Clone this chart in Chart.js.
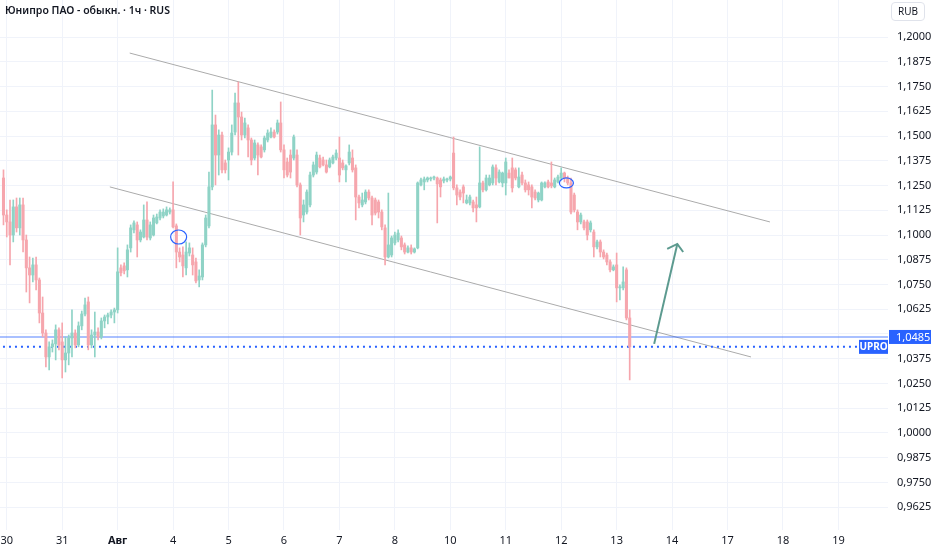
<!DOCTYPE html>
<html lang="ru">
<head>
<meta charset="utf-8">
<title>Юнипро ПАО - обыкн. · 1ч · RUS</title>
<script src="https://cdn.jsdelivr.net/npm/chart.js@4.4.1/dist/chart.umd.min.js"></script>
<style>
  html, body { margin: 0; padding: 0; background: #fff; }
  #wrap { position: relative; width: 932px; height: 550px; }
  #title { position: absolute; left: 5px; top: 3px; font: 600 10.5px "Noto Sans", sans-serif; color: #131722; }
  #cur { position: absolute; left: 891px; top: 2px; width: 34px; height: 19px; box-sizing: border-box;
         border: 1px solid #e0e3eb; border-radius: 4px; font: 10px "Noto Sans", sans-serif;
         color: #131722; text-align: center; line-height: 17px; }
</style>
</head>
<body>
<div id="wrap">
  <canvas id="chart"></canvas>
  <div id="title">Юнипро ПАО - обыкн. · 1ч · RUS</div>
  <div id="cur">RUB</div>
</div>
<script>
// hourly candles
const opens = [1.1288,1.1101,1.1066,1.1000,1.1142,1.1036,1.1152,1.0975,1.0834,1.0798,
  1.0849,1.0773,1.0606,1.0505,1.0384,1.0435,1.0450,1.0521,1.0460,1.0369,
  1.0404,1.0480,1.0505,1.0445,1.0541,1.0601,1.0662,1.0445,1.0495,1.0510,
  1.0485,1.0566,1.0586,1.0596,1.0611,1.0622,1.0834,1.0844,1.0824,1.0935,
  1.1026,1.1051,1.0975,1.0990,1.1076,1.0985,1.1000,1.1061,1.1086,1.1096,
  1.1101,1.1116,1.1127,1.1046,1.0914,1.0899,1.0834,1.0909,1.0899,1.0864,
  1.0773,1.0788,1.0950,1.1046,1.1243,1.1556,1.1404,1.1505,1.1364,1.1379,
  1.1419,1.1520,1.1667,1.1596,1.1505,1.1541,1.1480,1.1389,1.1455,1.1445,
  1.1430,1.1480,1.1495,1.1520,1.1520,1.1566,1.1430,1.1369,1.1404,1.1389,
  1.1404,1.1253,1.1101,1.1116,1.1152,1.1303,1.1318,1.1389,1.1379,1.1354,
  1.1344,1.1364,1.1389,1.1389,1.1364,1.1329,1.1364,1.1389,1.1339,1.1192,
  1.1152,1.1167,1.1217,1.1187,1.1177,1.1167,1.1116,1.1036,1.0889,1.0899,
  1.0960,1.0975,1.0985,1.0950,1.0914,1.0935,1.0914,1.0935,1.1253,1.1268,
  1.1278,1.1283,1.1288,1.1288,1.1278,1.1273,1.1278,1.1283,1.1414,1.1238,
  1.1217,1.1243,1.1162,1.1162,1.1167,1.1152,1.1142,1.1263,1.1228,1.1253,
  1.1263,1.1339,1.1268,1.1263,1.1263,1.1313,1.1339,1.1329,1.1243,1.1303,
  1.1263,1.1253,1.1243,1.1217,1.1177,1.1177,1.1243,1.1268,1.1263,1.1243,
  1.1268,1.1288,1.1313,1.1288,1.1263,1.1202,1.1116,1.1066,1.1066,1.1066,
  1.1026,1.1015,1.0940,1.0965,1.0914,1.0899,1.0864,1.0824,1.0849,1.0733,
  1.0733,1.0824,1.0581];
const highs = [1.1329,1.1127,1.1177,1.1177,1.1187,1.1187,1.1187,1.1000,1.0889,1.0884,
  1.0889,1.0783,1.0687,1.0521,1.0460,1.0470,1.0546,1.0531,1.0556,1.0485,
  1.0495,1.0622,1.0521,1.0561,1.0616,1.0682,1.0687,1.0521,1.0611,1.0531,
  1.0581,1.0596,1.0606,1.0622,1.0631,1.0935,1.0849,1.0859,1.0950,1.1051,
  1.1071,1.1066,1.1026,1.1152,1.1167,1.1066,1.1101,1.1106,1.1127,1.1132,
  1.1142,1.1137,1.1268,1.1056,1.0935,1.0940,1.0965,1.0960,1.0935,1.0884,
  1.0824,1.0960,1.1101,1.1318,1.1732,1.1606,1.1531,1.1520,1.1379,1.1440,
  1.1556,1.1717,1.1773,1.1621,1.1591,1.1556,1.1490,1.1480,1.1465,1.1455,
  1.1500,1.1531,1.1541,1.1531,1.1581,1.1672,1.1455,1.1389,1.1430,1.1505,
  1.1430,1.1263,1.1177,1.1228,1.1318,1.1369,1.1419,1.1404,1.1394,1.1379,
  1.1389,1.1404,1.1430,1.1495,1.1379,1.1354,1.1455,1.1430,1.1354,1.1202,
  1.1212,1.1228,1.1228,1.1197,1.1187,1.1177,1.1127,1.1051,1.1212,1.0995,
  1.1015,1.1026,1.0995,1.0960,1.0945,1.0950,1.0935,1.1268,1.1288,1.1293,
  1.1293,1.1293,1.1298,1.1293,1.1288,1.1293,1.1288,1.1298,1.1495,1.1253,
  1.1228,1.1253,1.1202,1.1202,1.1177,1.1192,1.1445,1.1273,1.1303,1.1303,
  1.1354,1.1354,1.1329,1.1318,1.1389,1.1329,1.1389,1.1339,1.1339,1.1318,
  1.1278,1.1268,1.1253,1.1228,1.1217,1.1268,1.1268,1.1278,1.1369,1.1288,
  1.1303,1.1339,1.1318,1.1298,1.1288,1.1212,1.1127,1.1111,1.1076,1.1076,
  1.1071,1.1026,1.0975,1.0975,1.0925,1.0909,1.0874,1.0849,1.0909,1.0748,
  1.0839,1.0834,1.0622];
const lows = [1.1051,1.0990,1.0849,1.0965,1.1015,1.1000,1.0914,1.0712,1.0657,1.0763,
  1.0723,1.0556,1.0485,1.0334,1.0319,1.0409,1.0369,1.0420,1.0278,1.0308,
  1.0344,1.0384,1.0430,1.0435,1.0521,1.0591,1.0420,1.0430,1.0384,1.0470,
  1.0475,1.0531,1.0551,1.0581,1.0556,1.0606,1.0793,1.0803,1.0788,1.0914,
  1.1010,1.0889,1.0965,1.0985,1.0975,1.0975,1.0995,1.1056,1.1076,1.1086,
  1.1096,1.1106,1.1036,1.0834,1.0864,1.0788,1.0798,1.0894,1.0798,1.0758,
  1.0738,1.0773,1.0940,1.1036,1.1228,1.1253,1.1303,1.1313,1.1313,1.1278,
  1.1404,1.1505,1.1404,1.1480,1.1490,1.1394,1.1354,1.1379,1.1303,1.1389,
  1.1419,1.1470,1.1490,1.1490,1.1510,1.1419,1.1288,1.1293,1.1288,1.1379,
  1.1243,1.1000,1.1066,1.1106,1.1142,1.1293,1.1308,1.1339,1.1349,1.1313,
  1.1339,1.1359,1.1379,1.1268,1.1329,1.1268,1.1354,1.1318,1.1076,1.1137,
  1.1142,1.1157,1.1177,1.1051,1.1101,1.1086,1.1026,1.0849,1.0884,1.0889,
  1.0950,1.0965,1.0925,1.0904,1.0909,1.0904,1.0909,1.0930,1.1248,1.1228,
  1.1268,1.1273,1.1278,1.1061,1.1192,1.1263,1.1268,1.1273,1.1228,1.1152,
  1.1177,1.1162,1.1157,1.1152,1.1116,1.1066,1.1137,1.1217,1.1222,1.1248,
  1.1253,1.1253,1.1263,1.1243,1.1202,1.1288,1.1217,1.1278,1.1238,1.1253,
  1.1217,1.1202,1.1137,1.1177,1.1167,1.1172,1.1238,1.1238,1.1238,1.1238,
  1.1263,1.1278,1.1268,1.1253,1.1106,1.1116,1.1026,1.1056,1.1026,1.0975,
  1.1015,1.0889,1.0930,1.0889,1.0879,1.0849,1.0814,1.0819,1.0662,1.0672,
  1.0723,1.0571,1.0268];
const closes = [1.1101,1.1066,1.1000,1.1142,1.1036,1.1152,1.0975,1.0834,1.0798,1.0849,
  1.0773,1.0606,1.0505,1.0384,1.0435,1.0450,1.0521,1.0445,1.0369,1.0404,
  1.0480,1.0505,1.0445,1.0541,1.0601,1.0647,1.0445,1.0495,1.0510,1.0485,
  1.0566,1.0586,1.0596,1.0611,1.0622,1.0814,1.0809,1.0819,1.0925,1.1036,
  1.1061,1.0975,1.1015,1.1076,1.0990,1.1051,1.1086,1.1091,1.1116,1.1116,
  1.1127,1.1127,1.1041,1.0914,1.0889,1.0844,1.0914,1.0935,1.0849,1.0768,
  1.0793,1.0950,1.1086,1.1243,1.1556,1.1404,1.1505,1.1329,1.1329,1.1419,
  1.1515,1.1667,1.1596,1.1505,1.1566,1.1480,1.1379,1.1465,1.1404,1.1394,
  1.1490,1.1515,1.1520,1.1495,1.1566,1.1430,1.1329,1.1303,1.1318,1.1495,
  1.1253,1.1086,1.1152,1.1217,1.1303,1.1354,1.1404,1.1344,1.1354,1.1318,
  1.1379,1.1394,1.1414,1.1303,1.1339,1.1349,1.1419,1.1329,1.1192,1.1162,
  1.1177,1.1217,1.1187,1.1101,1.1111,1.1116,1.1041,1.0889,1.0950,1.0985,
  1.1000,1.1010,1.0940,1.0914,1.0935,1.0914,1.0930,1.1263,1.1278,1.1283,
  1.1288,1.1288,1.1293,1.1258,1.1243,1.1283,1.1283,1.1293,1.1238,1.1202,
  1.1192,1.1212,1.1177,1.1192,1.1137,1.1137,1.1263,1.1228,1.1288,1.1288,
  1.1344,1.1288,1.1318,1.1313,1.1369,1.1288,1.1238,1.1288,1.1293,1.1263,
  1.1228,1.1228,1.1192,1.1187,1.1212,1.1263,1.1263,1.1243,1.1248,1.1278,
  1.1293,1.1313,1.1288,1.1263,1.1116,1.1127,1.1066,1.1101,1.1036,1.1000,
  1.1061,1.0940,1.0965,1.0914,1.0889,1.0864,1.0824,1.0839,1.0733,1.0738,
  1.0763,1.0581,1.0435];

// bottom axis: bar index where each day starts, and its label
const dayBars = [1, 18, 35, 52, 69, 86, 103, 120, 137, 154, 171, 188, 205, 222, 239, 256];
const dayLabels = ['30', '31', 'Авг', '4', '5', '6', '7', '8', '10', '11', '12', '13', '14', '17', '18', '19'];
const priceTicks = [0.9625, 0.9750, 0.9875, 1.0000, 1.0125, 1.0250, 1.0375, 1.0500, 1.0625, 1.0750,
  1.0875, 1.1000, 1.1125, 1.1250, 1.1375, 1.1500, 1.1625, 1.1750, 1.1875, 1.2000];

// drawings on the chart (bar index, price)
const channelTop = [[38.7, 1.1919], [235.0, 1.1066]];
const channelBottom = [[32.6, 1.1243], [229.2, 1.0384]];
const arrowLine = [[199.5, 1.0450], [206.6, 1.0955]];
const arrowHead = [[203.5, 1.0930], [206.6, 1.0955], [208.4, 1.0914]];
const levelPrice = 1.0485;
const lastPrice = 1.0435;
const marks = [[53.7, 1.0990, 8, 7], [172.6, 1.1263, 7, 5]];

const UP = '#8fd3c6', DOWN = '#f6a6ad', BLUE = '#2962ff';
const fmt = v => v.toFixed(4).replace('.', ',');
const bars = opens.map((o, i) => i);
const candleColors = bars.map(i => closes[i] >= opens[i] ? UP : DOWN);
const pts = arr => arr.map(p => ({ x: p[0], y: p[1] }));

const overlay = {
  id: 'overlay',
  afterDatasetsDraw(chart) {
    const { ctx, scales: { x, y } } = chart;
    ctx.save();
    ctx.strokeStyle = BLUE;
    ctx.lineWidth = 1.2;
    marks.forEach(m => {
      ctx.beginPath();
      ctx.ellipse(x.getPixelForValue(m[0]), y.getPixelForValue(m[1]), m[2], m[3], 0, 0, Math.PI * 2);
      ctx.stroke();
    });
    ctx.restore();
  },
  afterDraw(chart) {
    const { ctx, chartArea, scales: { y } } = chart;
    ctx.save();
    const ly = y.getPixelForValue(levelPrice);
    ctx.fillStyle = BLUE;
    ctx.fillRect(chartArea.right + 1, ly - 7, 42, 14);
    ctx.fillStyle = '#fff';
    ctx.font = '11px "Noto Sans", sans-serif';
    ctx.textBaseline = 'middle';
    ctx.fillText(fmt(levelPrice), chartArea.right + 8, ly + 0.5);
    const py = y.getPixelForValue(lastPrice);
    ctx.fillStyle = BLUE;
    ctx.fillRect(chartArea.right - 29, py - 7, 29, 14);
    ctx.fillStyle = '#fff';
    ctx.font = 'bold 10px "Noto Sans", sans-serif';
    ctx.textAlign = 'center';
    ctx.fillText('UPRO', chartArea.right - 14.5, py + 0.5);
    ctx.restore();
  }
};

const tickFont = { family: '"Noto Sans", sans-serif', size: 11 };

new Chart(document.getElementById('chart'), {
  type: 'bar',
  data: {
    datasets: [
      { type: 'line', data: pts(channelTop), borderColor: '#ababab', borderWidth: 1, pointRadius: 0, order: 5 },
      { type: 'line', data: pts(channelBottom), borderColor: '#ababab', borderWidth: 1, pointRadius: 0, order: 5 },
      { type: 'line', data: [{ x: -2, y: levelPrice }, { x: 272, y: levelPrice }],
        borderColor: 'rgba(41,98,255,0.4)', borderWidth: 2, pointRadius: 0, order: 4 },
      { type: 'line', data: [{ x: -2, y: lastPrice }, { x: 262, y: lastPrice }],
        borderColor: BLUE, borderWidth: 2, borderDash: [2, 4], pointRadius: 0, order: 4 },
      { data: bars.map(i => ({ x: i, y: [lows[i], highs[i]] })), backgroundColor: candleColors,
        barThickness: 1, grouped: false, minBarLength: 1, order: 3 },
      { data: bars.map(i => ({ x: i, y: [opens[i], closes[i]] })), backgroundColor: candleColors,
        barThickness: 2.4, grouped: false, minBarLength: 1, order: 2 },
      { type: 'line', data: pts(arrowLine), borderColor: '#5c9a8f', borderWidth: 2, pointRadius: 0, order: 1 },
      { type: 'line', data: pts(arrowHead), borderColor: '#5c9a8f', borderWidth: 2, pointRadius: 0, order: 1 }
    ]
  },
  options: {
    responsive: true,
    maintainAspectRatio: false,
    animation: false,
    events: [],
    layout: { padding: 0 },
    plugins: { legend: { display: false }, tooltip: { enabled: false } },
    scales: {
      x: {
        type: 'linear', min: -1.07, max: 271.2, offset: false,
        grid: { color: '#f0f3fa', drawTicks: false, offset: false },
        border: { display: false },
        afterBuildTicks: s => { s.ticks = dayBars.map(v => ({ value: v })); },
        afterFit: s => { s.height = 20; s.paddingLeft = 0; s.paddingRight = 0; },
        ticks: {
          autoSkip: false, maxRotation: 0, padding: 4, color: '#131722',
          callback: (v, i) => dayLabels[i],
          font: c => ({ ...tickFont, weight: c.tick && c.tick.label === 'Авг' ? 'bold' : 'normal' })
        }
      },
      y: {
        type: 'linear', position: 'right', min: 0.951, max: 1.2187,
        grid: { color: '#f0f3fa', drawTicks: false },
        border: { display: false },
        afterBuildTicks: s => { s.ticks = priceTicks.map(v => ({ value: v })); },
        afterFit: s => { s.width = 44; s.paddingTop = 0; s.paddingBottom = 0; },
        ticks: {
          autoSkip: false, padding: 9, color: '#131722', font: tickFont,
          // the price-line label hides the tick right under it
          callback: v => Math.abs(v - levelPrice) < 0.004 ? '' : fmt(v)
        }
      }
    }
  },
  plugins: [overlay]
});
</script>
</body>
</html>
